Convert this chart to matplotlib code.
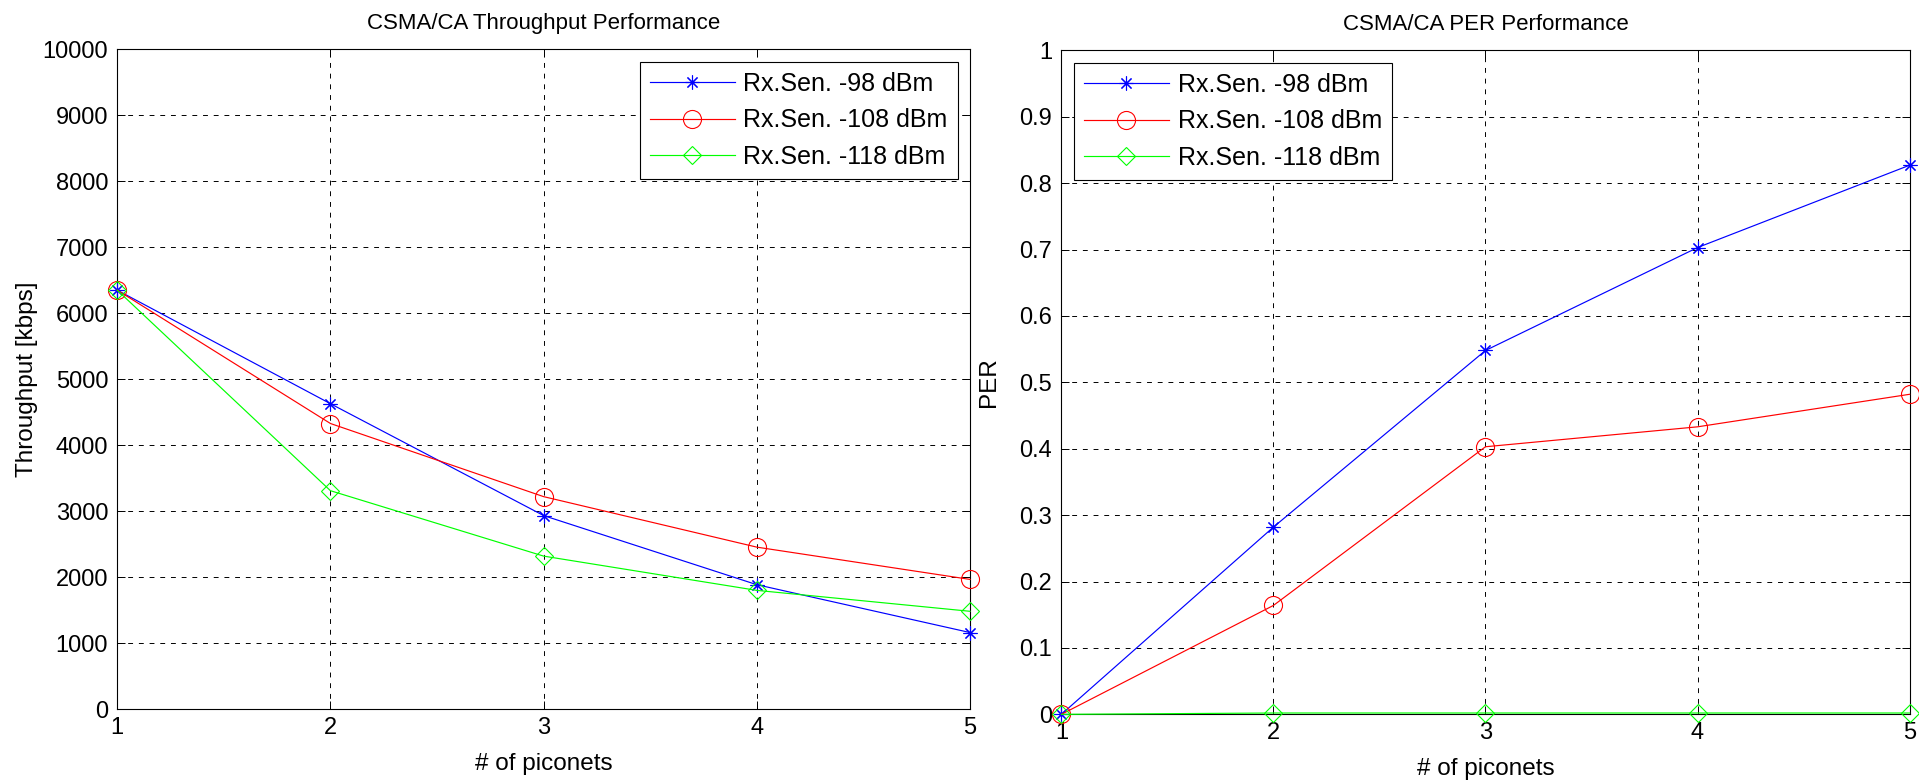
# CSMA/CA throughput / PER, two side-by-side panels in MATLAB style
import matplotlib
matplotlib.use('Agg')
import matplotlib.pyplot as plt
import numpy as np

plt.rcParams['font.family'] = ['Liberation Sans', 'DejaVu Sans']

piconets = [1, 2, 3, 4, 5]
labels = ['Rx.Sen. -98 dBm', 'Rx.Sen. -108 dBm', 'Rx.Sen. -118 dBm']

# throughput [kbps]
thr_98 = [6350, 4630, 2935, 1888, 1163]
thr_108 = [6350, 4330, 3222, 2457, 1968]
thr_118 = [6350, 3312, 2321, 1802, 1485]

# PER
per_98 = [0.0, 0.282, 0.548, 0.703, 0.827]
per_108 = [0.0, 0.164, 0.403, 0.433, 0.482]
per_118 = [0.0, 0.002, 0.002, 0.002, 0.002]

colors = ['#0000ff', '#ff0000', '#00ff00']
markers = [(8, 2, 0), 'o', 'D']
msizes = [10, 13, 9]

fig = plt.figure(figsize=(19.19, 7.83), dpi=100)
ax1 = fig.add_axes([0.0611, 0.0941, 0.4444, 0.843])
ax2 = fig.add_axes([0.5531, 0.0877, 0.4420, 0.848])


def style_axes(ax):
    ax.grid(True, color='k', linestyle=(0, (5, 6)), linewidth=0.7)
    ax.tick_params(direction='in', length=6, width=0.7, top=True, right=True,
                   labelsize=17)
    ax.tick_params(axis='y', pad=6.5)
    ax.tick_params(axis='x', pad=5.5)
    for s in ax.spines.values():
        s.set_linewidth(0.8)
    ax.set_xlim(1, 5)
    ax.set_xticks(piconets)
    ax.set_xlabel('# of piconets', fontsize=17.5, labelpad=10)


def make_legend(ax, loc):
    leg = ax.legend(loc=loc, fontsize=18, handlelength=3.4, handletextpad=0.35,
                    labelspacing=0.5, borderaxespad=0.5, fancybox=False, framealpha=1,
                    edgecolor='k', borderpad=0.4)
    leg.get_frame().set_linewidth(0.8)


for ax, series in [(ax1, [thr_98, thr_108, thr_118]), (ax2, [per_98, per_108, per_118])]:
    for i, ys in enumerate(series):
        ax.plot(piconets, ys, color=colors[i], marker=markers[i], markersize=msizes[i],
                markerfacecolor='none', markeredgecolor=colors[i], markeredgewidth=0.8,
                linewidth=0.85, label=labels[i], clip_on=False, zorder=3)
    style_axes(ax)

ax1.set_ylim(0, 10000)
ax1.set_yticks(np.arange(0, 10001, 1000))
ax1.set_ylabel('Throughput [kbps]', fontsize=17.5, labelpad=3)
ax1.set_title('CSMA/CA Throughput Performance', fontsize=16, pad=14.5)
make_legend(ax1, 'upper right')

ax2.set_ylim(0, 1)
ax2.set_yticks(np.round(np.arange(0, 1.01, 0.1), 1))
ax2.set_yticklabels(['0', '0.1', '0.2', '0.3', '0.4', '0.5', '0.6', '0.7', '0.8', '0.9', '1'])
ax2.set_ylabel('PER', fontsize=17.5, labelpad=14)
ax2.set_title('CSMA/CA PER Performance', fontsize=16, pad=14.5)
make_legend(ax2, 'upper left')

plt.savefig('out.png', dpi=100)
